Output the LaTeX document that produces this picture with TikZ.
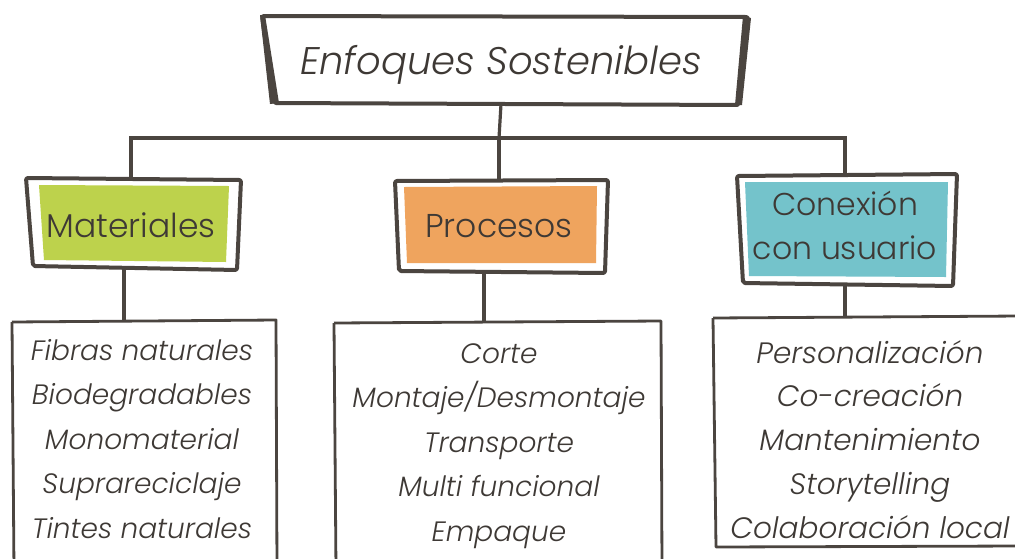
\documentclass[tikz,border=0pt]{standalone}
\usepackage{fontspec}
\setmainfont{Poppins}[UprightFont=* Light, ItalicFont=* Light Italic]
\definecolor{ink}{HTML}{4B4540}
\definecolor{txt}{HTML}{3E3935}
\definecolor{verde}{HTML}{BDD24C}
\definecolor{naranja}{HTML}{EFA45E}
\definecolor{turq}{HTML}{74C3CB}
\tikzset{
  conn/.style={draw=ink, line width=3.2pt},
  frame/.style={draw=ink, line width=4pt, line join=round, rounded corners=2pt},
  thinframe/.style={draw=ink, line width=2.8pt, line join=round},
  titletxt/.style={font=\fontsize{38.5}{44}\selectfont\itshape, text=txt, inner sep=0pt, anchor=base},
  cattxt/.style={font=\fontsize{33}{44}\selectfont, text=txt, align=center, inner sep=0pt, anchor=base},
  listtxt/.style={font=\fontsize{28}{44.5}\selectfont\itshape, text=txt, align=center, inner sep=0pt, anchor=base},
}
\begin{document}
\begin{tikzpicture}[x=1pt,y=-1pt]
\useasboundingbox[fill=white] (0,0) rectangle (1015,558);

% title frame
\draw[frame] (262,16) -- (748,17) -- (739,105) -- (274,103) -- cycle;
\fill[ink] (260,15) -- (265,15) -- (279,103) -- (270,104) -- cycle;
\fill[ink] (743,16) -- (751,18) -- (742,105) -- (735,105) -- cycle;
\node[titletxt] (t) at (501,74) {Enfoques Sostenibles};

% category frames
\fill[verde] (39,185) -- (229,186) -- (226,262) -- (44,260) -- cycle;
\draw[frame] (26,178) -- (241,180) -- (237,270) -- (33,266) -- cycle;
\node[cattxt] (m) at (131,237) {Materiales};

\fill[naranja] (404,187) -- (597,186) -- (596,263) -- (407,263) -- cycle;
\draw[frame] (395,181) -- (608,180) -- (605,273) -- (399,271) -- cycle;
\node[cattxt] (p) at (499,237) {Procesos};

\fill[turq] (745,182) -- (948,182) -- (946,277) -- (749,276) -- cycle;
\draw[frame] (737,176) -- (957,174) -- (953,286) -- (743,283) -- cycle;
\node[cattxt, font=\fontsize{31.5}{44}\selectfont] (c) at (845,259) {Conexión\\con usuario};

% list frames
\draw[thinframe] (12,322) -- (276,320) -- (277,570);
\draw[thinframe] (12,322) -- (14,570);
\draw[thinframe] (334,323) -- (661,321) -- (662,570);
\draw[thinframe] (334,323) -- (336,570);
\draw[thinframe] (713,318) -- (1020,316);
\draw[thinframe] (713,318) -- (716,547) -- (1020,546);

\node[listtxt] (lm) at (142,538) {Fibras naturales\\Biodegradables\\Monomaterial\\Suprareciclaje\\Tintes naturales};
\node[listtxt] (lp) at (499,541) {Corte\\Montaje/Desmontaje\\Transporte\\Multi funcional\\Empaque};
\node[listtxt, font=\fontsize{29.5}{43.75}\selectfont\itshape] (lc) at (870,538) {Personalización\\Co-creación\\Mantenimiento\\Storytelling\\Colaboración local};

% connectors
\coordinate (bar) at (499,138);
\draw[conn] (t.south |- 0,104) -- (bar);
\draw[conn] (m.north |- 0,178) |- (bar) -| (c.north |- 0,175);
\draw[conn] (bar) -- (p.north |- 0,181);
\draw[conn] ([xshift=-7pt]m.south |- 0,268) -- ([xshift=-7pt]m.south |- 0,321);
\draw[conn] ([xshift=-15pt]p.south |- 0,272) -- ([xshift=-15pt]p.south |- 0,322);
\draw[conn] (c.south |- 0,284) -- (c.south |- 0,317);
\end{tikzpicture}
\end{document}
